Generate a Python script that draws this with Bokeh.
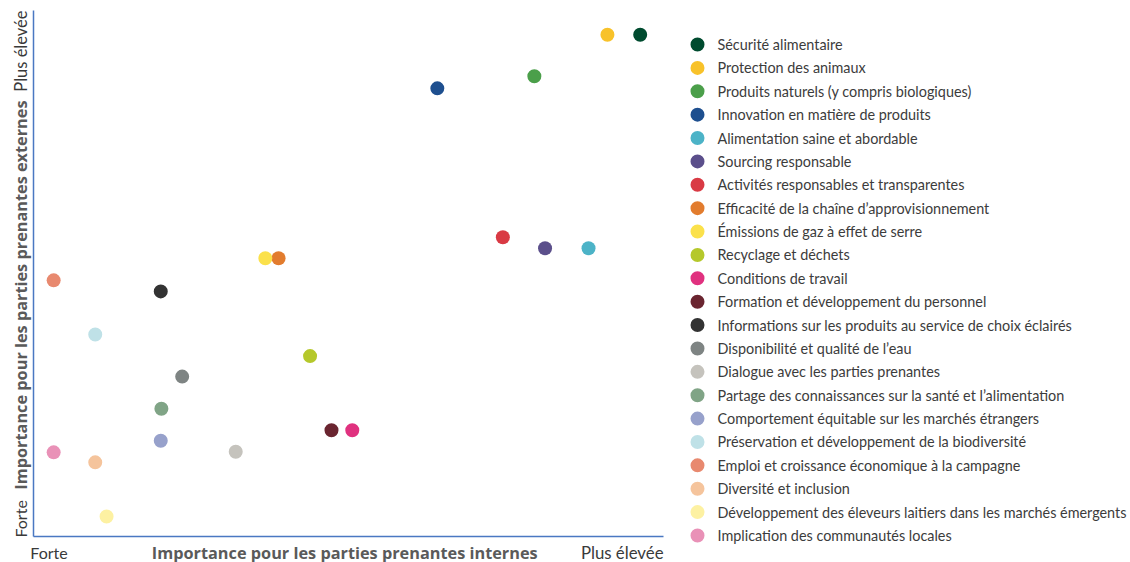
import math
from bokeh.plotting import figure
from bokeh.models import Range1d, ColumnDataSource
from bokeh.layouts import row
from bokeh.core.properties import value
from bokeh.embed import file_html
from bokeh.resources import INLINE

# ---------------- data ----------------
topics = [
    "Sécurité alimentaire",
    "Protection des animaux",
    "Produits naturels (y compris biologiques)",
    "Innovation en matière de produits",
    "Alimentation saine et abordable",
    "Sourcing responsable",
    "Activités responsables et transparentes",
    "Efficacité de la chaîne d’approvisionnement",
    "Émissions de gaz à effet de serre",
    "Recyclage et déchets",
    "Conditions de travail",
    "Formation et développement du personnel",
    "Informations sur les produits au service de choix éclairés",
    "Disponibilité et qualité de l’eau",
    "Dialogue avec les parties prenantes",
    "Partage des connaissances sur la santé et l’alimentation",
    "Comportement équitable sur les marchés étrangers",
    "Préservation et développement de la biodiversité",
    "Emploi et croissance économique à la campagne",
    "Diversité et inclusion",
    "Développement des éleveurs laitiers dans les marchés émergents",
    "Implication des communautés locales",
]
# importance for internal stakeholders (0-100)
internal = [96.3, 91.1, 79.5, 64.1, 88.1, 81.2, 74.5, 38.9, 36.8, 43.9, 50.6, 47.3,
            20.2, 23.6, 32.1, 20.3, 20.2, 9.8, 3.2, 9.8, 11.6, 3.2]
# importance for external stakeholders (0-100)
external = [95.4, 95.4, 87.5, 85.2, 54.8, 54.8, 56.9, 52.9, 52.9, 34.3, 20.2, 20.2,
            46.6, 30.4, 16.1, 24.3, 18.2, 38.4, 48.7, 14.1, 3.8, 16.0]
colors = ["#004B2F", "#F8C22A", "#4B9F4A", "#1E4F8F", "#4CB3C7", "#5B4F8B",
          "#D93A44", "#E27C2E", "#FBE14B", "#B5C82B", "#E0317F", "#6A2530",
          "#333333", "#7E8483", "#C5C3BD", "#80A486", "#97A1CB", "#BFE1E7",
          "#E8896F", "#F5C49C", "#FDF1A2", "#E991B7"]

x_low, x_high = "Forte", "Plus élevée"
x_title = "Importance pour les parties prenantes internes"
y_low, y_high = "Forte", "Plus élevée"
y_title = "Importance pour les parties prenantes externes"

FONT = "Lato"
BOLD_FONT = "Open Sans"
AXIS_BLUE = "#4A78C2"
lab_color = "#3a3a3a"
title_color = "#5a5a5a"

# ---------------- main scatter ----------------
W, H = 680, 562
fx0, fx1 = 33, 663      # pixel span of the value scale 0..100 (x)
fy0, fy1 = 536, 10      # pixel span of the value scale 0..100 (y)
sx = (fx1 - fx0) / 100.0
sy = (fy0 - fy1) / 100.0
p = figure(width=W, height=H, output_backend="svg", toolbar_location=None,
           x_range=Range1d(-fx0 / sx, (W - fx0) / sx),
           y_range=Range1d(-(H - fy0) / sy, fy0 / sy),
           min_border_left=0, min_border_right=0, min_border_top=0, min_border_bottom=0)
p.axis.visible = False
p.grid.visible = False
p.outline_line_color = None

# axis lines
p.segment(x0=[0, 0], y0=[0, 0], x1=[0, 100], y1=[100, 0],
          line_color=AXIS_BLUE, line_width=1.5)

src = ColumnDataSource(dict(x=internal, y=external, c=colors, t=topics))
p.scatter("x", "y", source=src, size=14, fill_color="c", line_color=None)

# bottom labels
bx = -16 / sy
p.text(x=[-0.5], y=[bx], text=[x_low], text_align="left", text_baseline="middle",
       text_font=value(FONT), text_font_size="16px", text_color=lab_color)
p.text(x=[100], y=[bx], text=[x_high], text_align="right", text_baseline="middle",
       text_font=value(FONT), text_font_size="16.8px", text_color=lab_color)
p.text(x=[49.4], y=[bx], text=[x_title], text_align="center", text_baseline="middle",
       text_font=value(BOLD_FONT), text_font_size="16.3px", text_font_style="bold",
       text_color=title_color)
# left labels (rotated)
lx = -13 / sx
p.text(x=[lx], y=[100], text=[y_high], angle=math.pi / 2, text_align="right",
       text_baseline="middle", text_font=value(FONT), text_font_size="16.5px",
       text_color=lab_color)
p.text(x=[lx], y=[-0.2], text=[y_low], angle=math.pi / 2, text_align="left",
       text_baseline="middle", text_font=value(FONT), text_font_size="16px",
       text_color=lab_color)
p.text(x=[lx], y=[45.9], text=[y_title], angle=math.pi / 2, text_align="center",
       text_baseline="middle", text_font=value(BOLD_FONT), text_font_size="16.3px",
       text_font_style="bold", text_color=title_color)

# ---------------- legend panel ----------------
n = len(topics)
rows = list(range(n))
first, last = 44, 535
pitch = (last - first) / (n - 1)
LW = 1130 - W
lg = figure(width=LW, height=H, output_backend="svg", toolbar_location=None,
            x_range=Range1d(0, LW), y_range=Range1d((H - first) / pitch, -first / pitch),
            min_border_left=0, min_border_right=0, min_border_top=0, min_border_bottom=0)
lg.axis.visible = False
lg.grid.visible = False
lg.outline_line_color = None
lsrc = ColumnDataSource(dict(mx=[17] * n, tx=[37] * n, y=rows, c=colors, t=topics))
lg.scatter("mx", "y", source=lsrc, size=14, fill_color="c", line_color=None)
lg.text("tx", "y", text="t", source=lsrc, text_align="left", text_baseline="middle",
        text_font=value(FONT), text_font_size="14.4px", text_color="#3c3c3c")

layout = row(p, lg)
open("out.html", "w").write(file_html(layout, INLINE))
